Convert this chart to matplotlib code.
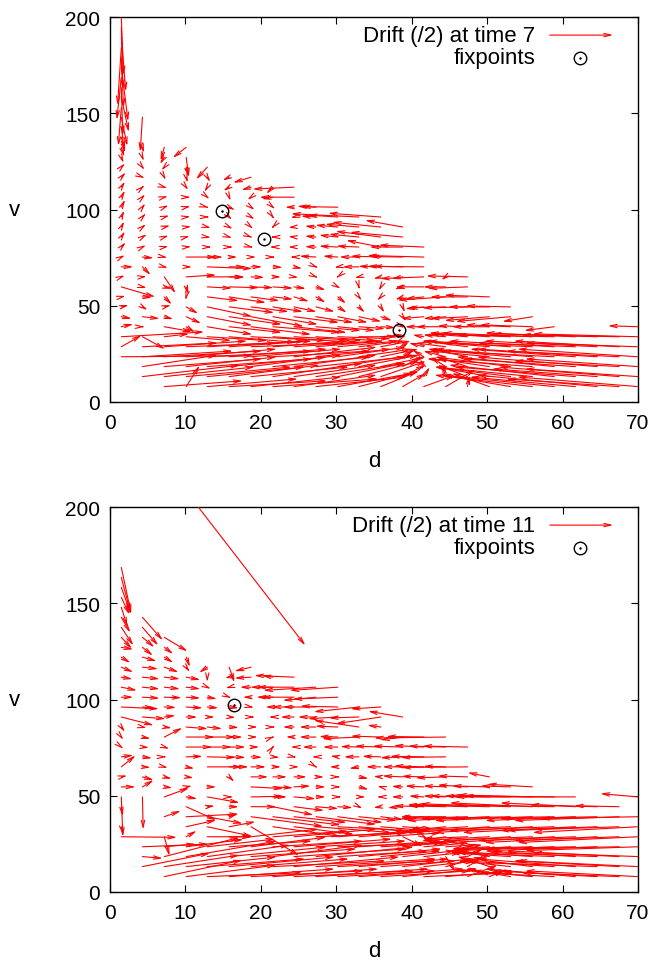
import matplotlib
matplotlib.use('Agg')
import matplotlib.pyplot as plt

plt.rcParams['font.family'] = ['Liberation Sans', 'DejaVu Sans']
plt.rcParams['font.size'] = 15

# grid of arrow tails (d columns, v rows)
D = [1.5, 4.3, 7.2, 10.1, 12.9, 15.8, 18.7, 21.6, 24.4, 27.3, 30.2, 33.0, 35.9,
     38.8, 41.6, 44.5, 47.4, 50.3, 53.1, 56.0, 58.9, 61.7, 64.6, 67.5, 70.0]
V = [8.0, 13.2, 18.4, 23.5, 28.7, 33.9, 39.1, 44.3, 49.4, 54.6, 59.8, 65.0, 70.2,
     75.3, 80.5, 85.7, 90.9, 96.1, 101.2, 106.4, 111.6, 116.8, 122.0, 127.1,
     132.3, 137.5, 142.7, 147.9, 153.0, 158.2, 163.4, 168.6, 173.8, 178.9,
     184.1, 189.3, 194.5, 199.7]

N = None
# drift (dd, dv) per row, time 7
drift_t7 = [
    [N, N, (10.4, 3), (1.8, 11), (12, 4), (13, 3), (12, 5), (14, 4), (11, 6), (12, 5), (10, 7), (8, 8), (5, 8),
     (3.1, 6.9), (4.2, 6), (4, 9), (0.3, 6), (-5, 7), (-9, 6), (-13, 6), (-15, 6), (-14, 5), (-16, 6), (-15, 4), (-16, 5)],
    [N, (13, 6), (12, 5), (14, 5), (13, 5), (12, 6), (13, 5), (12, 7), (11, 6), (12, 7), (9, 7), (8, 8), (6, 8),
     (3, 6), (0.8, 5), (-0.5, 6), (-4, 6), (-7, 5), (-10, 5), (-13, 5), (-14, 6), (-16, 5), (-14, 4), (-16, 5), (-15, 4)],
    [N, (10, 6), (13, 4), (12, 5), (14, 4), (13, 5), (12, 6), (13, 5), (11, 6), (12, 5), (10, 6), (8, 6), (6, 5),
     (2.5, 5), (-0.5, 4), (-2, 5), (-4, 5), (-7, 4), (-10, 5), (-14, 4), (-13, 5), (-15, 4), (-16, 5), (-14, 3), (-15, 4)],
    [(17.5, 0.5), (12, 3), (13, 3), (12, 4), (14, 3), (13, 4), (12, 4), (13, 3), (11, 5), (10, 4), (9, 5), (7, 4), (5, 4),
     (1.5, 3.5), (-1.5, 3.5), (-3, 3), (-5, 4), (-8, 3), (-11, 4), (-13, 4), (-15, 3), (-14, 4), (-16, 4), (-15, 3), (-16, 4)],
    [(2.7, 6), (10, 2), (11, 3), (12, 2), (13, 3), (11, 3), (12, 2), (10, 3), (11, 3), (9, 3), (8, 3), (6, 3), (4, 3),
     (0.8, 2.5), (-2, 2), (-4, 2), (-6, 3), (-9, 3), (-11, 3), (-12, 2), (-14, 3), (-13, 2), (-15, 3), (-14, 3), (-15, 2)],
    [(11, 2.5), (3, -6.4), (3.3, 1.5), (6, -2), (8, -2), (9, -3), (10, -2), (11, -3), (9, -2), (8, -2), (7, -1), (5, 0),
     (3, 1), (0.5, 1), (-1.5, 1), (-3, 1), (-5, 1.5), (-8, 2), (-10, 1.5), (-12, 2), (-13, 1), (-12, 2), (-14, 1.5),
     (-13, 1), (-14, 1.5)],
    [(1.6, 1.4), (0.3, 0), (3.7, -2.6), (1.2, -3), (6, -4), (7, -3), (8, -4), (9, -3), (7, -3), (6, -2), (5, -2),
     (3.5, -1), (2, -0.5), (0.3, -0.5), (-2.5, 0), (-4, 0), (-4, 0.5), (-5, 0), (-6, 1), (-7, 1), (-4, -2), N, N, N,
     (-4, 0.5)],
    [(1.4, -1), (2.3, -1), (1.2, -1.3), (2, -3.5), (6, -4.5), (7, -4), (7, -5), (6, -4), (6, -3), (5, -3), (4, -3),
     (3, -2.5), (1.5, -2), (0.5, -2.5), (-3, -1), (-3, -1), (-5, -1), (-6, -2), (-7.3, -2.5), (-4, -2.5)],
    [(1, 1), (0.7, -1.7), (0.9, 1), (1.6, -3.5), (6, -5), (6, -3), (5, -2.5), (4, -2.5), (3, -2.5), (2.5, -2.5),
     (1.2, -3), (0.8, -3), (0.5, -3), (0.3, -3), (-2.5, -1), (-5, -0.5), (-6, -0.5), (-5.5, 0), (-6, 0.5)],
    [(0.6, 0.5), (1.3, -0.3), (1, -4), (-0.1, -1.7), (4.2, -2), (4.9, -3), (3.8, -2), (2.7, -1.2), (2, -2.4),
     (1.3, -3), (1.1, -3.5), (0.4, -2), (-0.5, -2), (-1, -1.5), (-2.5, -1), (-6.4, -1.7), (-5, 0), (-6, 0.9)],
    [(4.5, -5.2), (0.6, -0.5), (1, -1), (0.3, -4), (3.3, -0.7), (4, -0.4), (3, -0.4), (2.7, -0.7), (1.6, -0.9),
     (1.3, -1.7), (0.4, -0.9), (0.1, -1.5), (-0.3, -2), (-1.1, -1.2), (-3.8, 0), (-3, 0), (-5.3, -0.8)],
    [(0.5, 0.8), (0.6, 0.3), (1.5, -8.6), (4, 1), (5, 0), (2, -0.3), (1.8, -0.3), (1.1, 0), (0.6, -0.3), (0.3, -0.5),
     (-0.2, -0.6), (-0.6, -0.6), (-1, -1), (-1.5, -1), (-5.8, -0.9), (-0.6, -1.7), (-5.5, 0.5)],
    [(1.6, 0), (1.1, -4.3), (0.5, -0.5), (0.8, 0), (6, -0.9), (2.2, 0), (1.5, 0), (1.3, -0.3), (1.1, -0.9),
     (0.3, -0.5), (-0.5, -0.3), (-2.2, 0), (-3, 0.3), (-4, 0.3), (-7.5, 0.3)],
    [(0.5, 1), (1.5, -0.5), (0.4, -0.3), (4.9, 0), (1.3, 0), (1.1, 0), (0.7, 0), (0.3, 0), (-0.5, 0), (-2.2, 0.5),
     (-2, 0.5), (-2.6, 0), (-4, 0.5), (-4.4, 0.3), (-7.5, 0.8)],
    [(0.6, 2.5), (0.5, 1), (0.6, 0.5), (0.7, 0.3), (0.6, 0), (0.5, 0), (0.3, -0.3), (-0.4, 0), (-0.8, 0), (-1.5, 0.3),
     (-2.5, 0.5), (-3, 0.5), (-4.6, 3.5), (-4.4, 0), (-6, 1)],
    [(0.5, 3), (0.6, 1.5), (0.6, 0.8), (0.5, 0.5), (0.5, -0.3), (0.4, -0.5), (0.2, -0.3), (-0.3, 0), (-0.8, 0.3),
     (-1.5, 0.5), (-2.5, 1), (-4, 1.5), (-6, 3), (-7, 2.5)],
    [(0.4, 3), (0.5, 1.5), (0.8, 0.8), (0.7, 0.3), (0.5, -0.5), (0.5, -1), (0.3, -1), (-0.2, -0.8), (-0.8, -0.3),
     (-1.5, 0.5), (-3, 1), (-4.5, 1.5), (-6.5, 2.5), (-5, 3.5)],
    [(0.4, 3.5), (0.5, 2), (0.7, 0.8), (0.6, 0.3), (0.3, 0), (0.4, -1.5), (0.5, -1.2), (0.2, -1), (-0.5, -0.5),
     (-2, 0.5), (-4, 1), (-9, 1.7), (-7, 2)],
    [(0.5, 4), (0.4, 2), (0.6, 1), (0.6, 0.5), (0.2, -0.2), (0.8, -1.5), (0.5, -1.5), (0.3, -1), (-1.2, 0),
     (-2.5, 0.5), (-4.9, 0.3)],
    [(0.5, 3.5), (0.4, 1.5), (0.5, 0.5), (0.6, 0), (0.3, -1), (0.2, -2), (-0.5, -1.5), (-1.5, -1), (-4.6, 0)],
    [(0.5, 3), (0.3, 1), (0.4, -0.5), (0.3, -1.5), (-0.4, -2.5), (-0.8, -2), (-1.3, -1.5), (-0.9, -3.5), (-5.5, -1)],
    [(0.6, 2.5), (0.3, -0.5), (0.2, -1.5), (0.2, -3), (0.4, -2.6), (-0.9, -1.7), (-2.4, -2.9)],
    [(0.5, 2), (0.3, -1.5), (-0.4, -1.7), (0.35, -5.2), (-1.5, -6.4)],
    [(0.3, -3), (0.2, -2), (-0.6, -3.5), (0.35, -10.4)],
    [(0.4, -5), (0.2, -3), (-0.5, -7), (-1.8, -5.5)],
    [(0.5, -8)],
    [(0.4, -12)],
    [(0.8, -15), (-0.3, -18)],
    [(-0.4, -20)],
    [(1, -18)],
    [(0.2, -25)],
    [(-0.6, -22)],
    [(0.9, -28)],
    [(0.3, -26)],
    [(-0.5, -30)],
    [(0.6, -28)],
    [(0.2, -32)],
    [(0.3, -30)],
]

# drift (dd, dv) per row, time 11
drift_t11 = [
    [N, N, (10.4, 8.6), (12, 6), (12.6, 2), (14, 4), (15, 3), (14, 4), (16, 3), (15, 4), (13, 3), (14, 4), (12, 3),
     (10, 4), (12, 2), (9, 3), (4, 6), (2, 3), (-6, 4), (-8, 3), (-10, 2), (-12, 4), (-14, 3), (-13, 2), (-15, 3)],
    [N, (9, 7), (10, 6), (12, 5), (13, 4), (14, 5), (13, 4), (15, 3), (14, 5), (16, 4), (13, 3), (12, 4), (10, 3),
     (9, 4), (7, 3), (5, 5), (3, 7), (-3, 4), (-7, 3), (-10, 5), (-12, 3), (-13, 4), (-15, 2), (-14, 3), (-16, 3)],
    [N, (2.7, -0.9), (10, 10), (12, 8), (11, 6), (13, 5), (14, 4), (12, 6), (15, 4), (13, 5), (12, 3), (11, 4), (8, 3),
     (7, 3), (5, 2), (1.3, -8), (2, 4), (-4, 3), (-8, 2), (-11, 3), (-13, 2), (-12, 3), (-14, 2), (-15, 3), (-14, 2)],
    [N, (8.8, 1.4), (4.2, 1.4), (7.6, 3.8), (9, 4), (11, 3), (10, 5), (12, 3), (13, 4), (12, 3), (14, 2), (11, 3),
     (9, 2), (7, 3), (6, 2), (4, 1), (2, 1), (-5, -1), (-8, -2), (-10, -1), (-13, -2), (-12, -1), (-14, -2), (-13, -1),
     (-15, -2)],
    [(7.4, -0.3), N, (0.7, -10), (1.4, 3.1), (6, 0), (3, 0), (9, 4), (10, 3), (11, 4), (12, 2), (10, 3), (9, 3),
     (8, 2), (2.7, -5), (0.5, -1), (-3, -2), (-6, -1), (-9, -2), (-11, -3), (-12, -2), (-14, -3), (-13, -2), (-15, -3),
     (-14, -2), (-16, -3)],
    [(0.3, -4), N, N, (4, 3.5), (6, -5), (3.5, 2.6), (6.4, -15), (9, -5), (8, -4), (10, -3), (9, -2), (8, -3),
     (6, -2), (4, -1), (-2, -2), (-5, -2), (-8, -2), (-10, -3), (-12, -2), (-13, -3), (-14, -2), (-15, -3), (-13, -2),
     (-15, -2), (-14, -3)],
    [N, N, (2.2, 3.1), (7, 1.4), (4.7, -3.5), (1.1, 1.4), (9.6, -5), (9, -4.3), (7, -3), (8, -4), (6, -3), (5, -2),
     (3, -1.5), (1.5, -1), (-3, -1), (-6, 0), (-9, -1), (-11, -2), (-12, -1), (-13, -2), (-14, -1), (-12, -2),
     (-13, -1), (-14, -2), (-13, -1)],
    [(0.2, -5), N, N, (4, -7), (1, 0.5), (1.3, 0), (3.4, 0), (5.4, -4.3), (4, -2), (3, -1), (2, -0.5), (0.5, -1),
     (-1, -0.5), (-2, -0.5), (-4, 0.5), (-5, 0.5), (-8, 1), (-10, 1), (-12, 1.5), (-11, 2), (-13, 1), (-10, 2),
     (-9, 1), (-6, 0.5)],
    [(0.2, -20.8), (0.1, -17), (3.3, 4.7), (1.5, -1), (4.3, -3), (0.5, 0), (4.3, 0.3), (1.9, 0), (2.9, -1), (1.3, 0),
     (0.5, 0), (0.9, 0), (-0.5, 0), (-1.5, 0), (-2, 0.5), (-3, 0.5), (-5, 0.5), (-6, 0.5), (-8, 0.5), (-10, 1),
     (-12, 0.5), (-16, 0), N, N, (-5, 1.7)],
    [(1.9, 0), (1.5, 3.6), (1.1, -0.5), (0.8, 0.5), (1.2, 0), N, (4.3, -0.9), (2.7, -0.5), (2.2, 0.5), (1.3, 0),
     (0.4, 0), (1.3, -1.4), (-0.5, 0.5), (-1.5, 0.3), (-2.5, 0.5), (-3, 0.5), (-4, 1), (-5, 0.5), (-4, 0.5),
     (-6, 1.4)],
    [(0.8, 0.7), (1.5, -1.7), (1, -1), (1, -0.5), N, (0.7, -2.6), (2.3, 0), (1.9, 0), (1.7, 0), (1.1, 0), (0.3, 0),
     (1.3, -0.9), (-1, 0.3), (-2.7, 0.5), (-3, 0.3), (-4, -0.5), (-4, 0.5), (-2.9, 2.2)],
    [(1.9, 6), (1.1, -0.3), (0.5, -0.5), (1.1, -0.9), (5.5, 0), (1.8, 0), (2, 0), (1.1, 0), (0.7, 0), (0.2, -0.5),
     (-1.1, 0), (-1.3, -0.9), (-2, 0), (-2.7, 0), (-4, 0.5), (-3, 0.3), (-8.8, -0.3)],
    [(1.6, 0.9), (1.3, -0.7), (0.3, 0), (2.2, 0.3), (3.8, -0.3), (2.2, -0.3), (1.5, -0.3), (0.9, -0.3), (0.4, -0.3),
     (-0.5, 0), (-1, 0.5), (-2, 0), (-2.5, 0.3), (-3, -0.5), (-4.5, 0.3), (-6, -0.3)],
    [(0.3, -0.9), (0.9, -0.3), (0.7, -0.9), (3.5, 0), (3.3, 0), (2.2, 0), (1.1, 0), (0.2, 0.9), (-0.4, 0), (-1.8, 0),
     (-2, 0), (-2.5, 0.3), (-3.5, 0.5), (-4, 0.5), (-4, 0.8), (-5, 0.5), (-6, 0.5)],
    [(0.3, -1.5), (1.1, -0.9), (2.4, 4.8), (3.8, 0), (3.8, 0), (1.8, 0), (0.9, 0), (0.2, 0.3), (-1.1, 0), (-2.2, 0),
     (-2.5, 0.3), (-4.9, -0.9), (-4, 0.5), (-3, -1.5), (-5, 0.3), (-9.5, -0.5)],
    [(0.5, -2.6), (0.6, -0.5), (1, -0.5), (2.9, -0.9), (2, -0.9), (1.3, -0.3), (0.9, 0), (0.3, 0), (-1.5, 0),
     (-2.2, 0), (-3, 0.5), (-6, 3.5), (-1.8, 1)],
    [(4.3, -4.3), (3.1, -0.9), (1.5, 0.9), (1.5, 0), (1, 0), (0.9, -0.3), (0.5, 0), (-0.5, 0), (-1.8, 0), (-2.4, 0),
     (-4, -0.9), (-4, -0.5), (-6, -3.5), (-4.6, 3)],
    [(5, -0.9), (1.6, -0.5), (1.6, -0.3), (2.2, -0.5), (1.5, -0.5), (1.3, -0.5), (0.4, -0.3), (-1, 0), (-3, 0),
     (-4.4, 0), (-5, 0.5), (-6, -2.5), (-4, -1)],
    [(1.6, 0), (2.3, -0.5), (2.3, -0.3), (1.9, -0.5), (1.3, -0.9), (0.3, -0.5), (-1.1, 0), (-2.2, 0), (-4.4, 0),
     (-4.4, -1.7), (-6, -1)],
    [(2.1, -1.7), (2.3, -0.9), (2.1, -0.9), (1.9, -0.9), (0.5, -0.9), (-0.5, -0.5), (-1.5, 0), (-3, 0), (-5, 0),
     (-7, -1.7), (-6.4, -1.7)],
    [(1.5, -1), (2.3, -0.9), (2.1, -0.9), (1.9, -1.4), (0, -2.6), (-0.6, -0.3), (-2.2, -0.5), (-1.5, 0.9),
     (-5.3, 0.9)],
    [(1.6, -2.6), (2.1, -0.9), (1.9, -2.6), (0.5, -2.6), (-1.1, -2.9), (0.7, -8), (-2.2, -2.1)],
    [(1.2, -3), (1.9, -2.1), (1.2, -2.9), (0.5, -5.2)],
    [(1.6, -1), (1.4, -4.3), (1.2, -3.5)],
    [(1.4, -6), (1.6, -5.2), (3.1, -7.3)],
    [(1.6, -9.5), (2.1, -9.5)],
    [(1.2, -8), (2.7, -12)],
    [(0.8, -10)],
    [(1.1, -9)],
    [(1.3, -14)],
    [(1.2, -18)],
    [(1.3, -24)],
]
# one long drift arrow entering from the top edge at time 11: (d, v, dd, dv)
long_t11 = (11.7, 200.0, 14.2, -72.0)

fix_t7_d = [14.8, 20.4, 38.3]
fix_t7_v = [99.4, 84.7, 37.4]
fix_t11_d = [16.4]
fix_t11_v = [97.3]

RED = '#ff0000'
AP = dict(arrowstyle='->,head_length=0.5,head_width=0.12', color=RED, lw=0.8,
          shrinkA=0, shrinkB=0, mutation_scale=10)


def arrow(ax, d, v, dd, dv, coords='data'):
    an = ax.annotate('', xy=(d + dd, v + dv), xytext=(d, v), xycoords=coords,
                     textcoords=coords, arrowprops=AP, annotation_clip=False)
    if coords == 'data':
        an.arrow_patch.set_clip_path(ax.patch)


def panel(ax, field, fd, fv, time):
    for r, row in enumerate(field):
        for k, vec in enumerate(row):
            if vec is None:
                continue
            arrow(ax, D[k], V[r], vec[0], vec[1])
    ax.plot(fd, fv, 'o', ms=9, mfc='none', mec='black', mew=1.0, zorder=5)
    ax.plot(fd, fv, '.', ms=1.5, color='black', zorder=5)
    ax.set_xlim(0, 70)
    ax.set_ylim(0, 200)
    ax.set_xticks(range(0, 71, 10))
    ax.set_yticks(range(0, 201, 50))
    ax.tick_params(direction='in', length=5, width=0.8, top=True, right=True,
                   labelsize=15, pad=7)
    ax.tick_params(axis='x', pad=8)
    for s in ax.spines.values():
        s.set_linewidth(1.0)
    ax.set_xlabel('d', fontsize=16)
    ax.set_ylabel('v', rotation=0, fontsize=16)
    ax.xaxis.set_label_coords(0.5, -0.153)
    ax.xaxis.label.set_va('center')
    ax.yaxis.set_label_coords(-0.18, 0.5)
    ax.yaxis.label.set_va('center')
    # key
    ax.text(0.805, 0.953, 'Drift (/2) at time %d' % time, transform=ax.transAxes,
            ha='right', va='center', fontsize=16)
    ax.text(0.805, 0.894, 'fixpoints', transform=ax.transAxes,
            ha='right', va='center', fontsize=16)
    ax.annotate('', xy=(0.953, 0.953), xytext=(0.833, 0.953), xycoords='axes fraction',
                textcoords='axes fraction', arrowprops=AP)
    ax.plot([0.891], [0.894], 'o', ms=9, mfc='none', mec='black', mew=1.0,
            transform=ax.transAxes, clip_on=False)
    ax.plot([0.891], [0.894], '.', ms=1.5, color='black', transform=ax.transAxes,
            clip_on=False)


fig = plt.figure(figsize=(6.55, 9.62), dpi=100)
ax1 = fig.add_axes([110 / 655, 559 / 962, 528 / 655, 385 / 962])
ax2 = fig.add_axes([110 / 655, 69 / 962, 528 / 655, 385 / 962])

panel(ax1, drift_t7, fix_t7_d, fix_t7_v, 7)
panel(ax2, drift_t11, fix_t11_d, fix_t11_v, 11)
arrow(ax2, *long_t11)

fig.savefig('out.png', dpi=100)
